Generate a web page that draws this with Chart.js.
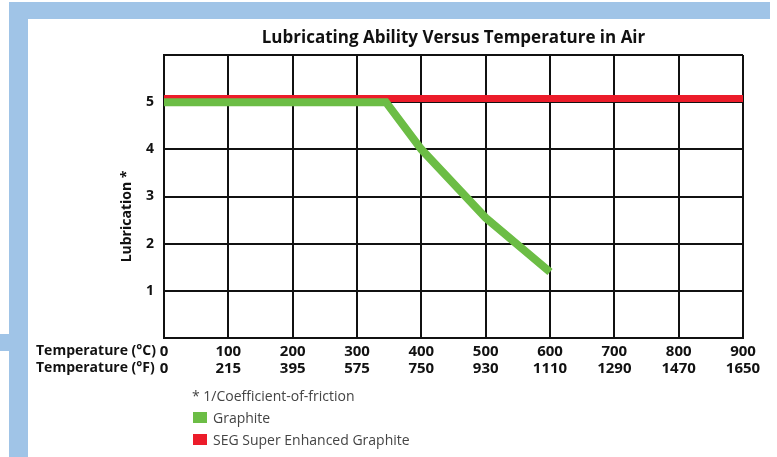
<!DOCTYPE html>
<html>
<head>
<meta charset="utf-8">
<title>Lubricating Ability Versus Temperature in Air</title>
<script src="https://cdn.jsdelivr.net/npm/chart.js"></script>
<style>
  body { margin: 0; background: #fff; }
  .page { position: relative; width: 777px; height: 457px; overflow: hidden; font-family: "Open Sans", sans-serif; }
  .strip { position: absolute; background: #a0c4e7; }
  canvas { position: absolute; left: 0; top: 0; }
  .legend { position: absolute; left: 192px; top: 384px; font-size: 14px; color: #444; }
  .legend div { height: 22px; display: flex; align-items: center; white-space: nowrap; }
  .legend .sw { display: inline-block; width: 14px; height: 11px; margin: 0 6px 0 1px; }
</style>
</head>
<body>
<div class="page">
  <div class="strip" style="left:9px; top:2px; width:761px; height:17px;"></div>
  <div class="strip" style="left:9px; top:2px; width:19px; height:455px;"></div>
  <div class="strip" style="left:0; top:334px; width:9px; height:17px;"></div>
  <canvas id="lubChart" width="777" height="457"></canvas>
  <div class="legend" id="legend"></div>
</div>
<script>
// values
const graphiteTemp = [0, 345, 400, 500, 600];
const graphiteLub = [5.0, 5.0, 4.0, 2.55, 1.4];
const segTemp = [0, 900];
const segLub = [5.08, 5.08];

const celsiusTicks = [0, 100, 200, 300, 400, 500, 600, 700, 800, 900];
const fahrenheitTicks = ['0', '215', '395', '575', '750', '930', '1110', '1290', '1470', '1650'];
const lubTicks = [1, 2, 3, 4, 5];
const rowLabels = ['Temperature (°C)', 'Temperature (°F)'];
const footNote = '* 1/Coefficient-of-friction';

const GRID = '#111';
const FONT = '"Open Sans", sans-serif';

// row headers and the rotated y title
const sideText = {
    id: 'sideText',
    afterDraw(chart) {
        const ctx = chart.ctx;
        const xs = chart.scales.x, ys = chart.scales.y;
        ctx.save();
        ctx.fillStyle = '#111';
        ctx.font = 'bold 14px ' + FONT;
        ctx.textBaseline = 'middle';
        ctx.textAlign = 'left';
        ctx.fillText(rowLabels[0], 36, xs.top + 13);
        ctx.fillText(rowLabels[1], 36, xs.top + 30);

        ctx.font = 'bold 14px ' + FONT;
        ctx.translate(127, (ys.top + ys.bottom) / 2 + 20);
        ctx.rotate(-Math.PI / 2);
        ctx.textAlign = 'center';
        ctx.fillText('Lubrication *', 0, 0);
        ctx.restore();
    }
};

const ctx = document.getElementById('lubChart').getContext('2d');
const lubChart = new Chart(ctx, {
    type: 'line',
    data: {
        datasets: [{
            label: 'Graphite',
            data: graphiteTemp.map((t, i) => ({x: t, y: graphiteLub[i]})),
            borderColor: '#6cbd45',
            backgroundColor: '#6cbd45',
            borderWidth: 8,
            pointRadius: 0,
            tension: 0
        }, {
            label: 'SEG Super Enhanced Graphite',
            data: segTemp.map((t, i) => ({x: t, y: segLub[i]})),
            borderColor: '#ec1c2a',
            backgroundColor: '#ec1c2a',
            borderWidth: 7,
            pointRadius: 0,
            tension: 0
        }]
    },
    options: {
        responsive: false,
        animation: false,
        layout: { padding: { left: 0, right: 34, top: 0, bottom: 0 } },
        plugins: {
            legend: { display: false },
            tooltip: { enabled: false },
            title: {
                display: true,
                text: 'Lubricating Ability Versus Temperature in Air',
                fullSize: false,
                color: '#111',
                font: { family: FONT, size: 17, weight: 'bold', lineHeight: 1.2 },
                padding: { top: 28, bottom: 6.6 }
            }
        },
        scales: {
            x: {
                type: 'linear',
                min: 0,
                max: 900,
                afterBuildTicks: s => { s.ticks = celsiusTicks.map(v => ({value: v})); },
                afterFit: s => { s.height = 119; },
                ticks: {
                    color: '#111',
                    maxRotation: 0,
                    autoSkip: false,
                    padding: 5,
                    font: { family: FONT, size: 15, weight: 'bold', lineHeight: 1.13 },
                    callback: v => [String(v), fahrenheitTicks[celsiusTicks.indexOf(v)]]
                },
                grid: { color: GRID, lineWidth: 2, drawTicks: false },
                border: { color: GRID, width: 2 }
            },
            y: {
                min: 0,
                max: 6,
                afterBuildTicks: s => { s.ticks = [0, 1, 2, 3, 4, 5, 6].map(v => ({value: v})); },
                afterFit: s => { s.width = 164; },
                ticks: {
                    color: '#111',
                    padding: 10,
                    font: { family: FONT, size: 14, weight: 'bold' },
                    callback: v => lubTicks.includes(v) ? String(v) : ''
                },
                grid: { color: GRID, lineWidth: 2, drawTicks: false },
                border: { color: GRID, width: 2 }
            }
        }
    },
    plugins: [sideText]
});

// legend below the chart, built from the datasets
const legend = document.getElementById('legend');
const note = document.createElement('div');
note.textContent = footNote;
legend.appendChild(note);
lubChart.data.datasets.forEach(ds => {
    const row = document.createElement('div');
    const sw = document.createElement('span');
    sw.className = 'sw';
    sw.style.background = ds.borderColor;
    row.appendChild(sw);
    row.appendChild(document.createTextNode(ds.label));
    legend.appendChild(row);
});
</script>
</body>
</html>
